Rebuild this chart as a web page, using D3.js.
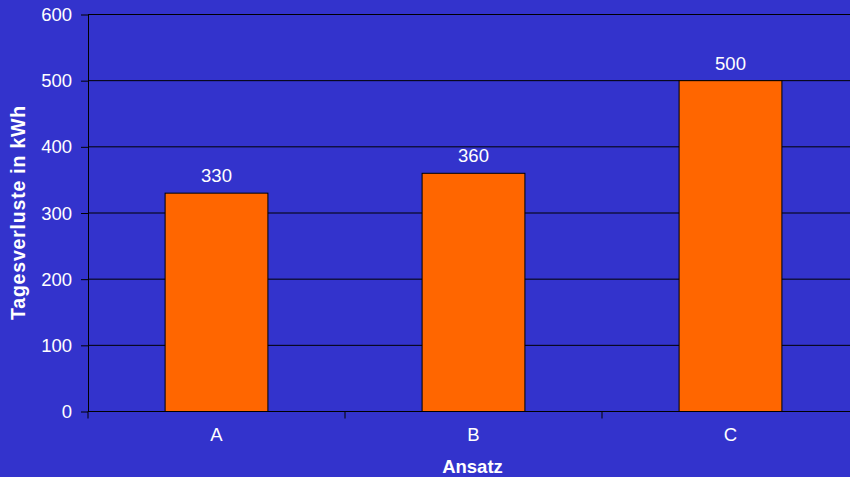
<!DOCTYPE html>
<html><head><meta charset="utf-8">
<script src="https://cdn.jsdelivr.net/npm/d3@7"></script>
<style>body{margin:0;background:#3333CC;overflow:hidden}svg{display:block}</style>
</head><body>
<svg id="c" width="850" height="477"></svg>
<script>
const categories = ["A", "B", "C"];
const values = [330, 360, 500];
const yTicks = [0, 100, 200, 300, 400, 500, 600];

const svg = d3.select("#c");
const W = 850, H = 477;
const L = 88, R = 859, T = 14.5, B = 411.5;
svg.append("rect").attr("width", W).attr("height", H).attr("fill", "#3333CC");

const x = d3.scaleBand().domain(categories).range([L, R]).paddingInner(0).paddingOuter(0);
const y = d3.scaleLinear().domain([0, 600]).range([B, T]);
const font = "'Liberation Sans', Arial, sans-serif";
const fs = 18.5;

// gridlines
svg.append("g").selectAll("line").data(yTicks.filter(d => d > 0)).join("line")
  .attr("x1", L).attr("x2", R).attr("y1", d => y(d)).attr("y2", d => y(d))
  .attr("stroke", "#000").attr("stroke-width", 1);

// bars
const bw = x.bandwidth() * 0.4;
svg.append("g").selectAll("rect").data(values).join("rect")
  .attr("x", (d, i) => x(categories[i]) + x.bandwidth() / 2 - bw / 2)
  .attr("y", d => y(d)).attr("width", bw).attr("height", d => B - y(d))
  .attr("fill", "#FF6600").attr("stroke", "#000").attr("stroke-width", 1);

// value labels
svg.append("g").selectAll("text").data(values).join("text")
  .attr("x", (d, i) => x(categories[i]) + x.bandwidth() / 2)
  .attr("y", d => y(d) - 11)
  .attr("text-anchor", "middle").attr("fill", "#fff")
  .attr("font-family", font).attr("font-size", fs).text(d => d);

// y axis
const ya = svg.append("g").attr("transform", `translate(${L},0)`)
  .call(d3.axisLeft(y).tickValues(yTicks).tickSize(7).tickPadding(9).tickSizeOuter(0));
ya.select(".domain").attr("stroke", "#000");
ya.selectAll(".tick line").attr("stroke", "#000");
ya.selectAll("text").attr("fill", "#fff").attr("font-family", font).attr("font-size", fs)
  .attr("dy", "0.33em");

// x axis
const xa = svg.append("g").attr("transform", `translate(0,${B})`)
  .call(d3.axisBottom(x).tickSize(0).tickPadding(18));
xa.select(".domain").attr("stroke", "#000").attr("d", `M${L},0H${R}`);
xa.selectAll("text").attr("fill", "#fff").attr("font-family", font).attr("font-size", fs)
  .attr("dy", "0.6em");
// category separator ticks
const sep = categories.map(c => x(c)).concat([R]);
svg.append("g").selectAll("line").data(sep).join("line")
  .attr("x1", d => d).attr("x2", d => d).attr("y1", B).attr("y2", B + 7)
  .attr("stroke", "#000");

// titles
svg.append("text").attr("transform", `translate(25,${(107 + 318) / 2}) rotate(-90)`)
  .attr("text-anchor", "middle").attr("fill", "#fff").attr("font-weight", "bold")
  .attr("font-family", font).attr("font-size", 19.5).attr("letter-spacing", 0.8)
  .text("Tagesverluste in kWh");
svg.append("text").attr("x", 472.5).attr("y", 473)
  .attr("text-anchor", "middle").attr("fill", "#fff").attr("font-weight", "bold")
  .attr("font-family", font).attr("font-size", 18.5).text("Ansatz");
</script>
</body></html>
